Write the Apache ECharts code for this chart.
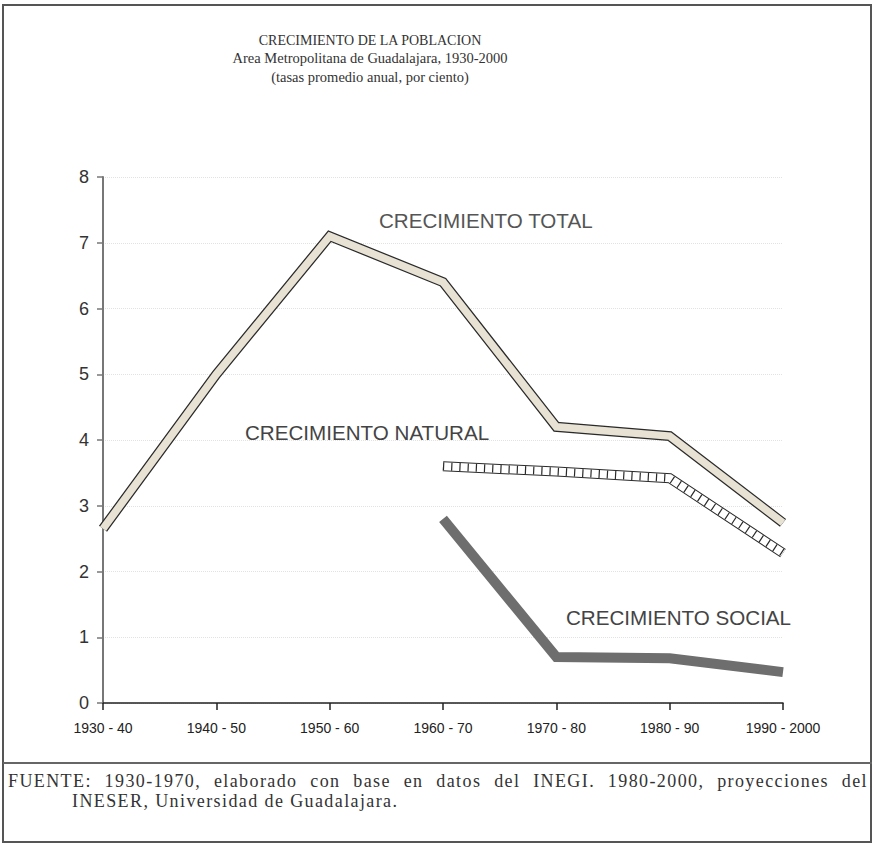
<!DOCTYPE html>
<html>
<head>
<meta charset="utf-8">
<script src="https://cdn.jsdelivr.net/npm/echarts@6/dist/echarts.min.js"></script>
<style>
html,body{margin:0;padding:0;background:#fff;}
#c{width:874px;height:844px;}
</style>
</head>
<body>
<div id="c"></div>
<script>
const categories = ['1930 - 40','1940 - 50','1950 - 60','1960 - 70','1970 - 80','1980 - 90','1990 - 2000'];
const yTicks = [0,1,2,3,4,5,6,7,8];
const totalGrowth = [2.65, 5.0, 7.1, 6.4, 4.2, 4.06, 2.74];
const naturalGrowth = [null, null, null, 3.6, 3.52, 3.42, 2.28];
const socialGrowth = [null, null, null, 2.8, 0.7, 0.68, 0.47];
const seriesNames = ['CRECIMIENTO TOTAL','CRECIMIENTO NATURAL','CRECIMIENTO SOCIAL'];
const titleLines = ['CRECIMIENTO DE LA POBLACION','Area Metropolitana de Guadalajara, 1930-2000','(tasas promedio anual, por ciento)'];
const footerLines = ['FUENTE: 1930-1970, elaborado con base en datos del INEGI. 1980-2000, proyecciones del','INESER, Universidad de Guadalajara.'];

const chart = echarts.init(document.getElementById('c'), null, {renderer:'svg'});
const serif = '"Liberation Serif", "Times New Roman", serif';
const sans = '"Liberation Sans", Arial, sans-serif';
const base = {type:'line', symbol:'none', silent:true, animation:false, connectNulls:false};

chart.setOption({
  backgroundColor:'#fff',
  animation:false,
  grid:{left:103, right:91, top:177, bottom:141},
  xAxis:{
    type:'category', data:categories, boundaryGap:false,
    axisLine:{lineStyle:{color:'#222', width:1.5}},
    axisTick:{show:true, length:7, lineStyle:{color:'#222', width:1.5}},
    axisLabel:{color:'#222', fontFamily:sans, fontSize:14, margin:18},
    splitLine:{show:false}
  },
  yAxis:{
    type:'value', min:yTicks[0], max:yTicks[yTicks.length-1], interval:1,
    axisLine:{show:true, lineStyle:{color:'#777', width:2}},
    axisTick:{show:true, length:6, lineStyle:{color:'#777', width:1.5}},
    axisLabel:{color:'#333', fontFamily:sans, fontSize:18, margin:14},
    splitLine:{show:true, lineStyle:{color:'#e2e2e2', type:'dotted', width:1}}
  },
  series:[
    Object.assign({}, base, {name:seriesNames[0], data:totalGrowth, z:2,
      lineStyle:{color:'#2a2a2a', width:10, cap:'butt', join:'miter'}}),
    Object.assign({}, base, {name:seriesNames[0]+'_fill', data:totalGrowth, z:3,
      lineStyle:{color:'#e7e2d4', width:7.5, cap:'butt', join:'miter'}}),
    Object.assign({}, base, {name:seriesNames[1], data:naturalGrowth, z:2,
      lineStyle:{color:'#2a2a2a', width:10, cap:'butt', join:'miter'}}),
    Object.assign({}, base, {name:seriesNames[1]+'_fill', data:naturalGrowth, z:3,
      lineStyle:{color:'#ffffff', width:8, cap:'butt', join:'miter'}}),
    Object.assign({}, base, {name:seriesNames[1]+'_hatch', data:naturalGrowth, z:4,
      lineStyle:{color:'#2a2a2a', width:8, type:[1.2,7], cap:'butt', join:'miter'}}),
    Object.assign({}, base, {name:seriesNames[2], data:socialGrowth, z:2,
      lineStyle:{color:'#6e6e6e', width:10, cap:'butt', join:'miter'}})
  ],
  graphic:[
    {type:'rect', shape:{x:3, y:5, width:868, height:837}, style:{fill:'none', stroke:'#555', lineWidth:2}, silent:true},
    {type:'line', shape:{x1:3, y1:763, x2:872, y2:763}, style:{stroke:'#666', lineWidth:2}, silent:true},
    {type:'text', x:370, y:40, style:{text:titleLines[0], font:'14px '+serif, fill:'#333', textAlign:'center', textVerticalAlign:'middle'}},
    {type:'text', x:370, y:58, style:{text:titleLines[1], font:'14.5px '+serif, fill:'#333', textAlign:'center', textVerticalAlign:'middle'}},
    {type:'text', x:370, y:77, style:{text:titleLines[2], font:'14.5px '+serif, fill:'#333', textAlign:'center', textVerticalAlign:'middle'}},
    {type:'text', x:379, y:220, style:{text:seriesNames[0], font:'20.6px '+sans, fill:'#555', textAlign:'left', textVerticalAlign:'middle'}},
    {type:'text', x:245, y:432, style:{text:seriesNames[1], font:'20.6px '+sans, fill:'#444', textAlign:'left', textVerticalAlign:'middle'}},
    {type:'text', x:566, y:617, style:{text:seriesNames[2], font:'20.6px '+sans, fill:'#444', textAlign:'left', textVerticalAlign:'middle'}},
    {type:'text', x:8, y:781, style:{text:footerLines[0], font:'18px '+serif, fill:'#333', textAlign:'left', textVerticalAlign:'middle'}},
    {type:'text', x:72, y:801, style:{text:footerLines[1], font:'18px '+serif, fill:'#333', textAlign:'left', textVerticalAlign:'middle'}}
  ]
});

// justify the first footer line like the scanned original (text stays real text)
function spreadFooter(){
  const texts = Array.from(document.querySelectorAll('#c svg text'));
  const first = texts.find(t => t.textContent === footerLines[0]);
  const second = texts.find(t => t.textContent === footerLines[1]);
  const ls = 1.4;
  if (second) second.setAttribute('letter-spacing', ls + 'px');
  if (!first) return;
  first.setAttribute('letter-spacing', ls + 'px');
  first.removeAttribute('word-spacing');
  const len = first.getComputedTextLength();
  const target = 868 - 8;
  const gaps = footerLines[0].split(' ').length - 1;
  const ws = Math.max(0, (target - len) / gaps);
  first.setAttribute('word-spacing', ws.toFixed(2) + 'px');
}
spreadFooter();
chart.on('finished', spreadFooter);
</script>
</body>
</html>
